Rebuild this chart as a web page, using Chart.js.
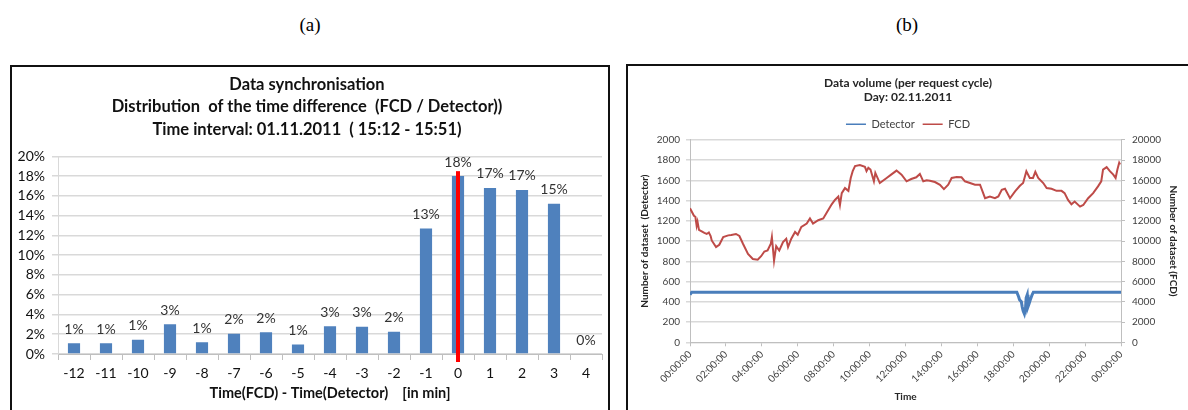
<!DOCTYPE html>
<html>
<head>
<meta charset="utf-8">
<script src="https://cdn.jsdelivr.net/npm/chart.js@4.4.1/dist/chart.umd.min.js"></script>
<style>
    html, body { margin: 0; padding: 0; background: #fff; width: 1188px; height: 410px; overflow: hidden; }
    .cap { position: absolute; top: 14px; width: 60px; text-align: center; font: 19px "Liberation Serif", serif; color: #000; }
    .panel { position: absolute; border: 2px solid #111; background: #fff; }
    #panelA { left: 10px; top: 65px; width: 596px; height: 360px; }
    #panelB { left: 626px; top: 64px; width: 570px; height: 360px; }
    .wrap { position: absolute; left: 0; top: 0; }
    #wrapA { width: 596px; height: 343px; }
    #wrapB { width: 560px; height: 344px; }
</style>
</head>
<body>
<div class="cap" style="left:280px">(a)</div>
<div class="cap" style="left:877px">(b)</div>
<div class="panel" id="panelA"><div class="wrap" id="wrapA"><canvas id="chartA"></canvas></div></div>
<div class="panel" id="panelB"><div class="wrap" id="wrapB"><canvas id="chartB"></canvas></div></div>
<script>
// (a) distribution of time difference FCD / Detector, in %
const diffLabels = ['-12', '-11', '-10', '-9', '-8', '-7', '-6', '-5', '-4', '-3', '-2', '-1', '0', '1', '2', '3', '4'];
const diffShares = [1.1, 1.1, 1.45, 3.0, 1.2, 2.05, 2.2, 0.95, 2.8, 2.75, 2.25, 12.7, 18.0, 16.8, 16.6, 15.2, 0];
const markerLabel = '0';   // red line at zero difference
const markerTop = 18.5;

// (b) data volume per request cycle, 02.11.2011
const hourLabels = ['00:00:00', '02:00:00', '04:00:00', '06:00:00', '08:00:00', '10:00:00', '12:00:00',
    '14:00:00', '16:00:00', '18:00:00', '20:00:00', '22:00:00', '00:00:00'];
const fcdHours = [0, 0.22, 0.3, 0.37, 0.42, 0.5, 0.6, 0.8, 0.93, 1.05, 1.15, 1.21, 1.45, 1.63, 1.85, 2.13, 2.3, 2.56, 2.75, 2.95,
    3.23, 3.5, 3.77, 3.96, 4.14, 4.32, 4.5, 4.56, 4.68, 4.8, 4.97, 5.18, 5.36, 5.46, 5.64, 5.85, 6.0, 6.2, 6.5, 6.68,
    6.85, 7.14, 7.42, 7.7, 7.89, 8.07, 8.26, 8.35, 8.45, 8.63, 8.82, 8.95, 9.06, 9.19, 9.46, 9.74, 9.83, 9.93, 10.05, 10.24,
    10.32, 10.57, 10.95, 11.2, 11.5, 11.78, 12.06, 12.32, 12.6, 12.8, 12.99, 13.18, 13.36, 13.64, 13.92, 14.14, 14.38, 14.57, 14.85, 15.12,
    15.31, 15.59, 15.87, 16.15, 16.43, 16.7, 16.98, 17.17, 17.36, 17.54, 17.82, 18.1, 18.37, 18.55, 18.73, 18.92, 19.1, 19.23, 19.39, 19.67,
    19.86, 20.13, 20.41, 20.69, 20.86, 21.05, 21.24, 21.42, 21.72, 21.9, 22.17, 22.45, 22.72, 22.9, 23.0, 23.2, 23.38, 23.57, 23.7, 23.8,
    23.9, 23.95];
const fcdCounts = [13230, 12500, 12400, 11500, 11900, 11100, 11000, 10800, 10700, 10850, 10500, 10060, 9400, 9630, 10400, 10560, 10600, 10700, 10500, 9730,
    8730, 8230, 8150, 8500, 8970, 9070, 9730, 10400, 8060, 9500, 9070, 9900, 10230, 9400, 10230, 10900, 10630, 11400, 11730, 12230,
    11730, 12060, 12230, 13060, 13630, 14060, 14400, 13560, 14730, 15230, 14960, 16230, 16900, 17400, 17500, 17330, 16900, 17230, 17060, 15900,
    16730, 15730, 16230, 16560, 16960, 16560, 15900, 16130, 16300, 16630, 15900, 16000, 15960, 15830, 15560, 15130, 15560, 16230, 16330, 16300,
    15900, 15730, 15560, 15560, 14230, 14400, 14230, 14400, 15060, 15160, 14230, 14900, 15460, 15730, 16900, 16230, 16230, 16830, 16230, 15730,
    15230, 15160, 14960, 14960, 14730, 14060, 13630, 13900, 13400, 13560, 14230, 14730, 15400, 15900, 17060, 17300, 16900, 16560, 16230, 17060,
    17730, 17560];
const detectorHours = [0, 0.1, 18.2, 18.3, 18.35, 18.45, 18.5, 18.55, 18.62, 18.68, 18.72, 18.78, 18.82, 18.88, 18.95, 19.05, 19.12, 24];
const detectorCounts = [470, 495, 495, 450, 420, 400, 350, 310, 280, 330, 440, 470, 350, 380, 420, 470, 495, 495];

const FONT = 'Lato';

// value labels on top of the bars (rounded like the original)
const barValueLabels = {
    id: 'barValueLabels',
    afterDatasetsDraw(chart) {
        const ctx = chart.ctx;
        const meta = chart.getDatasetMeta(0);
        ctx.save();
        ctx.font = '14px ' + FONT;
        ctx.fillStyle = '#333';
        ctx.textAlign = 'center';
        ctx.textBaseline = 'middle';
        meta.data.forEach((bar, i) => {
            ctx.fillText(Math.round(diffShares[i]) + '%', bar.x, bar.y - 14);
        });
        ctx.restore();
    }
};

const zeroMarker = {
    id: 'zeroMarker',
    afterDatasetsDraw(chart) {
        const ctx = chart.ctx;
        const x = chart.scales.x.getPixelForValue(diffLabels.indexOf(markerLabel));
        const yScale = chart.scales.y;
        ctx.save();
        ctx.strokeStyle = '#ff0000';
        ctx.lineWidth = 4;
        ctx.beginPath();
        ctx.moveTo(x, yScale.getPixelForValue(markerTop));
        ctx.lineTo(x, yScale.bottom + 8);
        ctx.stroke();
        ctx.restore();
    }
};

new Chart(document.getElementById('chartA'), {
    type: 'bar',
    data: {
        labels: diffLabels,
        datasets: [{
            data: diffShares,
            backgroundColor: '#4f81bd',
            barPercentage: 0.38,
            categoryPercentage: 1
        }]
    },
    options: {
        responsive: true,
        maintainAspectRatio: false,
        animation: false,
        layout: { padding: { left: 0, right: 6, top: 0, bottom: 0 } },
        plugins: {
            legend: { display: false },
            tooltip: { enabled: false },
            title: {
                display: true,
                text: ['Data synchronisation', 'Distribution  of the time difference  (FCD / Detector))', 'Time interval: 01.11.2011  ( 15:12 - 15:51)'],
                color: '#111',
                font: { family: FONT, size: 16.5, weight: 'bold', lineHeight: 1.34 },
                padding: { top: 7, bottom: 16 }
            }
        },
        scales: {
            x: {
                grid: { display: true, drawOnChartArea: false, tickLength: 6, color: '#bfbfbf', offset: true },
                border: { color: '#bfbfbf' },
                ticks: { color: '#111', font: { family: FONT, size: 14 }, padding: 5 },
                title: {
                    display: true,
                    text: 'Time(FCD) - Time(Detector)    [in min]',
                    color: '#111',
                    font: { family: FONT, size: 14.5, weight: 'bold' },
                    padding: { top: 0, bottom: 8 }
                },
                afterFit: (s) => { s.height = 56; }
            },
            y: {
                min: 0,
                max: 20,
                ticks: { stepSize: 2, autoSkip: false, callback: (v) => v + '%', color: '#111', font: { family: FONT, size: 14 }, padding: 7 },
                grid: { color: '#d9d9d9', lineWidth: 1.5, tickLength: 6 },
                border: { color: '#d9d9d9' },
                afterFit: (s) => { s.width = 46; }
            }
        }
    },
    plugins: [zeroMarker, barValueLabels]
});

new Chart(document.getElementById('chartB'), {
    type: 'line',
    data: {
        datasets: [{
            label: 'Detector',
            data: detectorHours.map((h, i) => ({ x: h, y: detectorCounts[i] })),
            yAxisID: 'y',
            borderColor: '#4a7ebb',
            backgroundColor: '#4a7ebb',
            borderWidth: 3,
            pointRadius: 0
        }, {
            label: 'FCD',
            data: fcdHours.map((h, i) => ({ x: h, y: fcdCounts[i] })),
            yAxisID: 'y1',
            borderColor: '#be4b48',
            backgroundColor: '#be4b48',
            borderWidth: 2,
            pointRadius: 0
        }]
    },
    options: {
        responsive: true,
        maintainAspectRatio: false,
        animation: false,
        plugins: {
            tooltip: { enabled: false },
            title: {
                display: true,
                text: ['Data volume (per request cycle)', 'Day: 02.11.2011'],
                color: '#262626',
                font: { family: FONT, size: 12, weight: 'bold', lineHeight: 1.2 },
                padding: { top: 10, bottom: 6 }
            },
            legend: {
                display: true,
                labels: {
                    usePointStyle: true,
                    pointStyle: 'line',
                    pointStyleWidth: 20,
                    boxHeight: 10,
                    color: '#404040',
                    font: { family: FONT, size: 11 },
                    padding: 8,
                    generateLabels: (chart) => {
                        const items = Chart.defaults.plugins.legend.labels.generateLabels(chart);
                        items.forEach((it) => { it.lineWidth = 1.5; });
                        return items;
                    }
                }
            }
        },
        scales: {
            x: {
                type: 'linear',
                min: 0,
                max: 24,
                ticks: {
                    stepSize: 2,
                    autoSkip: false,
                    maxRotation: 45,
                    minRotation: 45,
                    callback: (v, i) => hourLabels[i],
                    color: '#404040',
                    font: { family: FONT, size: 10 },
                    padding: 2
                },
                grid: { drawOnChartArea: false, tickLength: 4, color: '#bfbfbf' },
                border: { color: '#bfbfbf' },
                title: { display: true, text: 'Time', color: '#262626', font: { family: FONT, size: 10, weight: 'bold' }, padding: { top: 0, bottom: 7 } },
                afterFit: (s) => { s.height = 67.7; }
            },
            y: {
                position: 'left',
                min: 0,
                max: 2000,
                ticks: { stepSize: 200, autoSkip: false, callback: (v) => String(v), color: '#404040', font: { family: FONT, size: 10 }, padding: 6 },
                grid: { color: '#d9d9d9', lineWidth: 1.5, tickLength: 4 },
                border: { color: '#bfbfbf' },
                title: { display: true, text: 'Number of dataset  (Detector)', color: '#262626', font: { family: FONT, size: 10, weight: 'bold' }, padding: { top: 11, bottom: 0 } },
                afterFit: (s) => { s.width = 62; }
            },
            y1: {
                position: 'right',
                min: 0,
                max: 20000,
                ticks: { stepSize: 2000, autoSkip: false, callback: (v) => String(v), color: '#404040', font: { family: FONT, size: 10 }, padding: 7 },
                grid: { drawOnChartArea: false, tickLength: 4, color: '#bfbfbf' },
                border: { color: '#bfbfbf' },
                title: { display: true, text: 'Number of dataset (FCD)', color: '#262626', font: { family: FONT, size: 10, weight: 'bold' }, padding: { top: 9, bottom: 0 } },
                afterFit: (s) => { s.width = 67; }
            }
        }
    }
});
</script>
</body>
</html>
